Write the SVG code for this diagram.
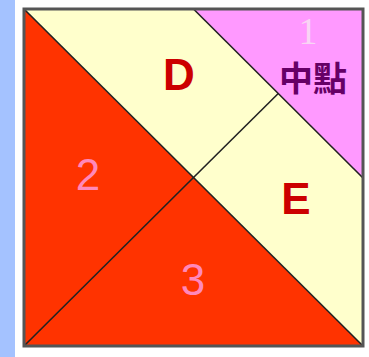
<svg xmlns="http://www.w3.org/2000/svg" width="369" height="357" viewBox="0 0 369 357">
<style>
.lbl{font-family:"Liberation Sans",Arial,sans-serif;text-anchor:middle;font-size:44px}
.big{font-weight:bold;fill:#CC0000}
.num{fill:#FF88BB}
.edge{stroke:#222;stroke-width:1.6;fill:none}
</style>
<rect x="0" y="0" width="369" height="357" fill="#FFFFFF"/>
<rect x="0" y="0" width="15" height="357" fill="#A4C2FF"/>
<g id="region-2"><polygon points="24,9 193.5,177.5 24,346" fill="#FF3300"/><text class="lbl num" x="88" y="190">2</text></g>
<g id="region-3"><polygon points="24,346 193.5,177.5 363,346" fill="#FF3300"/><text class="lbl num" x="193" y="295">3</text></g>
<g id="region-D"><polygon points="24,9 193.5,9 278.25,93.5 193.5,177.5" fill="#FFFFCC"/><text class="lbl big" x="179" y="90" font-size="45">D</text></g>
<g id="region-E"><polygon points="193.5,177.5 278.25,93.5 363,178 363,346" fill="#FFFFCC"/><text class="lbl big" x="296" y="214">E</text></g>
<g id="region-1"><polygon points="193.5,9 363,9 363,178" fill="#FF99FF"/><text x="308" y="44" font-family="'Liberation Serif',serif" font-size="38" text-anchor="middle" fill="#F8D4F4">1</text><text x="313" y="91" font-family="'Noto Sans CJK TC','Noto Sans CJK SC',sans-serif" font-size="34" font-weight="bold" text-anchor="middle" fill="#660066">中點</text></g>
<g id="connectors">
<line class="edge" x1="24" y1="9" x2="363" y2="346"/>
<line class="edge" x1="193.5" y1="9" x2="363" y2="178"/>
<line class="edge" x1="193.5" y1="177.5" x2="278.25" y2="93.5"/>
<line class="edge" x1="193.5" y1="177.5" x2="24" y2="346"/>
</g>
<rect x="24" y="9" width="339" height="337" fill="none" stroke="#555" stroke-width="3"/>
</svg>
